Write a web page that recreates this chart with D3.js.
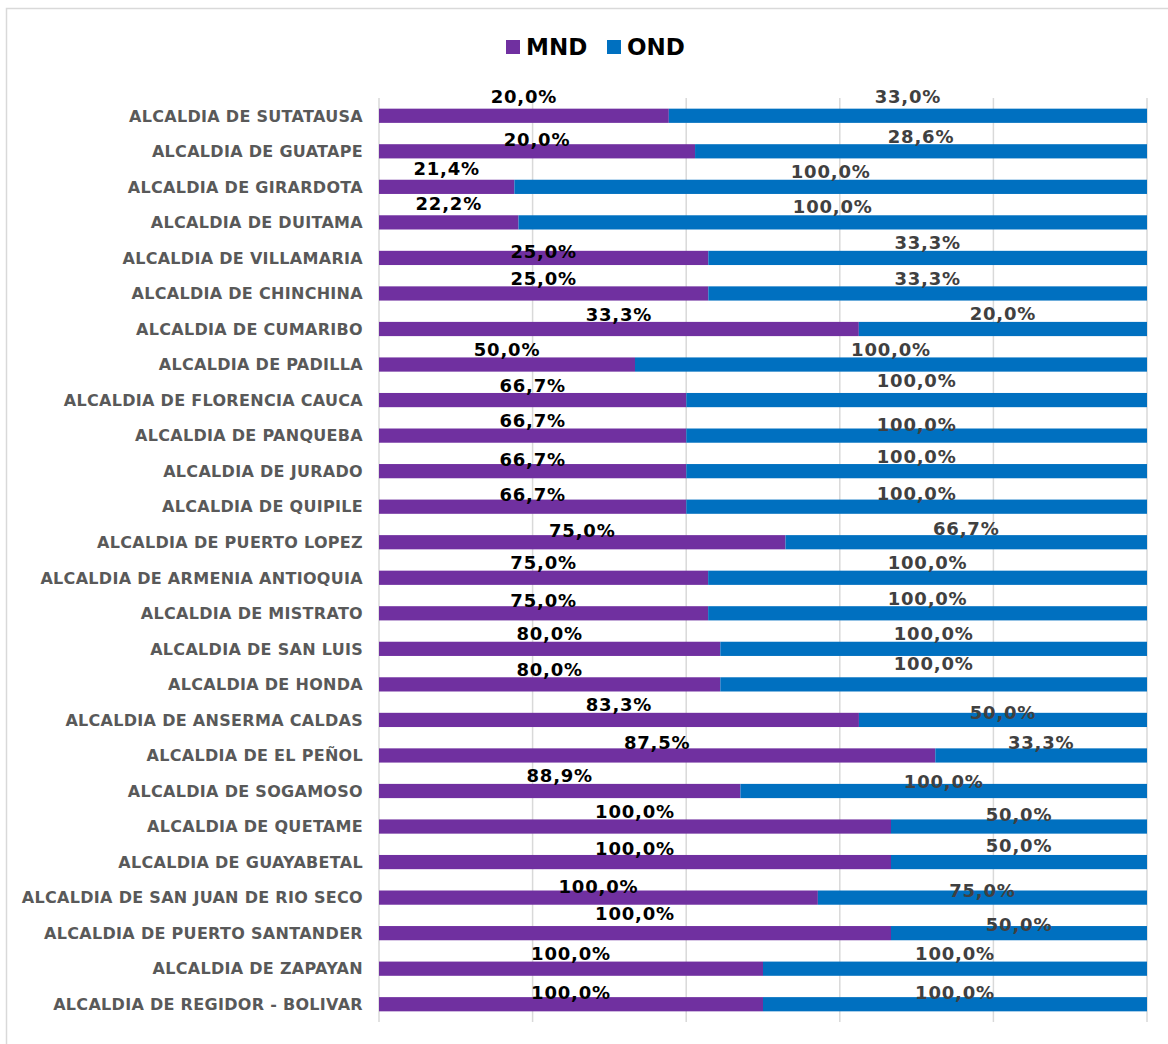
<!DOCTYPE html>
<html>
<head>
<meta charset="utf-8">
<script src="https://cdn.jsdelivr.net/npm/d3@7"></script>
<style>
  body { margin: 0; background: #fff; }
  svg { font-family: "DejaVu Sans", Verdana, sans-serif; }
</style>
</head>
<body>
<div id="chart"></div>
<script>
// categories, top to bottom
const categories = [
  "ALCALDIA DE SUTATAUSA", "ALCALDIA DE GUATAPE", "ALCALDIA DE GIRARDOTA", "ALCALDIA DE DUITAMA",
  "ALCALDIA DE VILLAMARIA", "ALCALDIA DE CHINCHINA", "ALCALDIA DE CUMARIBO", "ALCALDIA DE PADILLA",
  "ALCALDIA DE FLORENCIA CAUCA", "ALCALDIA DE PANQUEBA", "ALCALDIA DE JURADO", "ALCALDIA DE QUIPILE",
  "ALCALDIA DE PUERTO LOPEZ", "ALCALDIA DE ARMENIA ANTIOQUIA", "ALCALDIA DE MISTRATO", "ALCALDIA DE SAN LUIS",
  "ALCALDIA DE HONDA", "ALCALDIA DE ANSERMA CALDAS", "ALCALDIA DE EL PEÑOL", "ALCALDIA DE SOGAMOSO",
  "ALCALDIA DE QUETAME", "ALCALDIA DE GUAYABETAL", "ALCALDIA DE SAN JUAN DE RIO SECO",
  "ALCALDIA DE PUERTO SANTANDER", "ALCALDIA DE ZAPAYAN", "ALCALDIA DE REGIDOR - BOLIVAR"
];
const mndValues = [20, 20, 21.4, 22.2, 25, 25, 33.3, 50, 66.7, 66.7, 66.7, 66.7, 75, 75, 75, 80, 80, 83.3, 87.5, 88.9, 100, 100, 100, 100, 100, 100];
const ondValues = [33, 28.6, 100, 100, 33.3, 33.3, 20, 100, 100, 100, 100, 100, 66.7, 100, 100, 100, 100, 50, 33.3, 100, 50, 50, 75, 50, 100, 100];
const seriesNames = ["MND", "OND"];

// label vertical nudges (px from bar centre), as placed in the original
const mndLabelDy = [-19, -12, -18, -19, -6, -15, -14, -15, -15, -15, -12, -12, -12, -15, -13, -15, -15, -15, -13, -15, -15, -14, -11, -20, -15, -12];
const ondLabelDy = [-19, -15, -15, -16, -15, -15, -15, -15, -20, -11, -15, -13, -14, -15, -15, -15, -21, -7, -13, -9, -12, -17, -7, -9, -15, -12];

const colors = { MND: "#7030A0", OND: "#0070C0" };
const labelColors = { MND: "#000000", OND: "#404040" };

const W = 1168, H = 1044;
const plot = { left: 379, right: 1147, top: 98, bottom: 1022 };

const rows = categories.map((c, i) => ({ cat: c, MND: mndValues[i], OND: ondValues[i], i }));
const stack = d3.stack().keys(seriesNames).offset(d3.stackOffsetExpand);
const stacked = stack(rows);

const x = d3.scaleLinear().domain([0, 1]).range([plot.left, plot.right]);
const y = d3.scaleBand().domain(categories).range([plot.top, plot.bottom]).paddingInner(0.6).paddingOuter(0.3);

const svg = d3.select("#chart").append("svg").attr("width", W).attr("height", H);

// chart frame
svg.append("rect")
  .attr("x", 6.5).attr("y", 8.5)
  .attr("width", W + 10).attr("height", H + 10)
  .attr("fill", "#fff").attr("stroke", "#d9d9d9").attr("stroke-width", 1.5);

// vertical gridlines
svg.append("g")
  .selectAll("line")
  .data(d3.range(0, 1.0001, 0.2))
  .join("line")
  .attr("x1", d => x(d)).attr("x2", d => x(d))
  .attr("y1", plot.top).attr("y2", plot.bottom)
  .attr("stroke", "#d9d9d9").attr("stroke-width", 1.5);

// bars
svg.append("g")
  .selectAll("g")
  .data(stacked)
  .join("g")
  .attr("fill", d => colors[d.key])
  .selectAll("rect")
  .data(d => d)
  .join("rect")
  .attr("x", d => x(d[0]))
  .attr("width", d => x(d[1]) - x(d[0]))
  .attr("y", d => y(d.data.cat))
  .attr("height", y.bandwidth());

// category axis labels
svg.append("g")
  .selectAll("text")
  .data(categories)
  .join("text")
  .attr("x", plot.left - 16)
  .attr("y", d => y(d) + y.bandwidth() / 2)
  .attr("dy", "0.36em")
  .attr("text-anchor", "end")
  .attr("fill", "#595959")
  .attr("font-weight", "bold")
  .attr("font-size", 16)
  .attr("letter-spacing", 0.3)
  .text(d => d);

const fmt = v => d3.format(".1f")(v).replace(".", ",") + "%";

// data labels
stacked.forEach(s => {
  const dyArr = s.key === "MND" ? mndLabelDy : ondLabelDy;
  svg.append("g")
    .selectAll("text")
    .data(s)
    .join("text")
    .attr("x", d => (x(d[0]) + x(d[1])) / 2)
    .attr("y", (d, i) => y(d.data.cat) + y.bandwidth() / 2 + dyArr[i])
    .attr("dy", "0.36em")
    .attr("text-anchor", "middle")
    .attr("fill", labelColors[s.key])
    .attr("font-weight", "bold")
    .attr("font-size", 18)
    .attr("letter-spacing", 0.8)
    .text(d => fmt(d.data[s.key]));
});

// legend
const legend = svg.append("g");
const legendX = [506, 607];
seriesNames.forEach((name, i) => {
  legend.append("rect")
    .attr("x", legendX[i]).attr("y", 40)
    .attr("width", 14).attr("height", 14)
    .attr("fill", colors[name]);
  legend.append("text")
    .attr("x", legendX[i] + 20).attr("y", 47)
    .attr("dy", "0.36em")
    .attr("font-weight", "bold")
    .attr("font-size", 23)
    .attr("fill", "#000")
    .text(name);
});
</script>
</body>
</html>
